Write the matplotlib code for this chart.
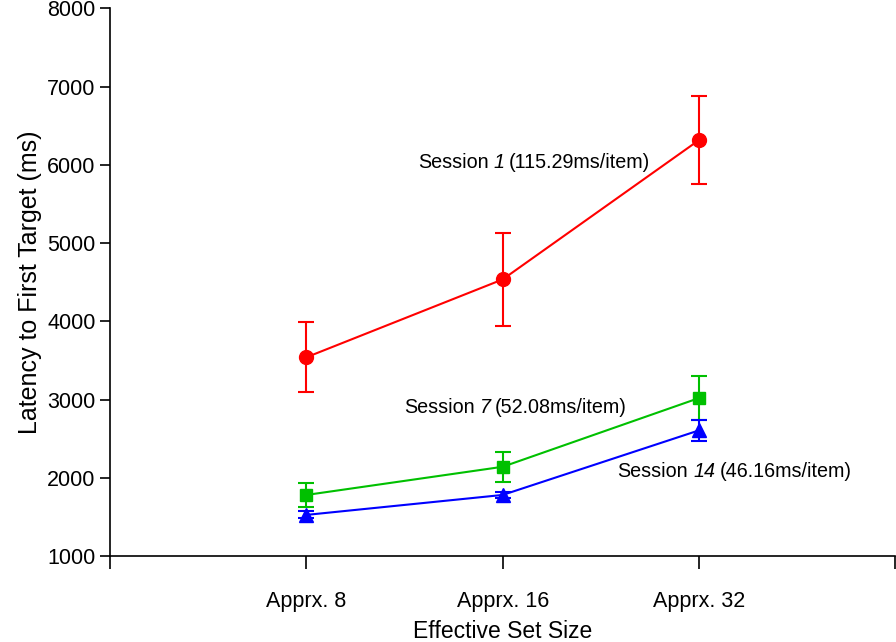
import numpy as np
import matplotlib
matplotlib.use('Agg')
import matplotlib.pyplot as plt

plt.rcParams['font.family'] = ['Liberation Sans', 'DejaVu Sans']

categories = ['Apprx. 8', 'Apprx. 16', 'Apprx. 32']
x = np.array([1, 2, 3])

s1_mean = [3540, 4535, 6315]
s1_err = [450, 595, 565]
s7_mean = [1780, 2140, 3018]
s7_err = [150, 190, 277]
s14_mean = [1525, 1780, 2605]
s14_err = [45, 40, 135]

fig = plt.figure(figsize=(8.96, 6.42), dpi=100)
ax = fig.add_axes([0.123, 0.134, 0.876, 0.853])

series = [
    (s1_mean, s1_err, '#ff0000', 'o', 10),
    (s7_mean, s7_err, '#00c000', 's', 8.5),
    (s14_mean, s14_err, '#0000ff', '^', 9.5),
]
for mean, err, col, mk, ms in series:
    ax.errorbar(x, mean, yerr=err, color=col, marker=mk, markersize=ms,
                linewidth=1.5, elinewidth=1.5, capsize=6, capthick=1.5)

ax.set_xlim(0, 4)
ax.set_ylim(1000, 8000)


def session_label(xp, yp, num, rate, fs=14.2):
    # "Session" upright, number italic, rate upright, chained one after another
    t1 = ax.text(xp, yp, 'Session', fontsize=fs, va='center', ha='left')
    t2 = ax.annotate(num, xy=(1, 0.5), xycoords=t1, xytext=(4, 0),
                     textcoords='offset points', fontsize=fs, style='italic',
                     va='center', ha='left')
    ax.annotate(rate, xy=(1, 0.5), xycoords=t2, xytext=(3, 0),
                textcoords='offset points', fontsize=fs, va='center', ha='left')


session_label(1.567, 6030, '1', '(115.29ms/item)')
session_label(1.496, 2900, '7', '(52.08ms/item)')
session_label(2.585, 2085, '14', '(46.16ms/item)')

ax.set_xticks([0, 1, 2, 3, 4])
ax.set_xticklabels([''] + categories + [''], fontsize=15.5)
ax.set_yticks(range(1000, 8001, 1000))
ax.tick_params(axis='y', labelsize=15.5, length=7, width=1.2, direction='out')
ax.tick_params(axis='x', length=9, width=1.2, direction='out', pad=16)

ax.spines['top'].set_visible(False)
ax.spines['right'].set_visible(False)
ax.spines['left'].set_linewidth(1.2)
ax.spines['bottom'].set_linewidth(1.2)

ax.set_xlabel('Effective Set Size', fontsize=16.5, labelpad=6)
ax.set_ylabel('Latency to First Target (ms)', fontsize=18, labelpad=4)

fig.savefig('out.png', dpi=100)
